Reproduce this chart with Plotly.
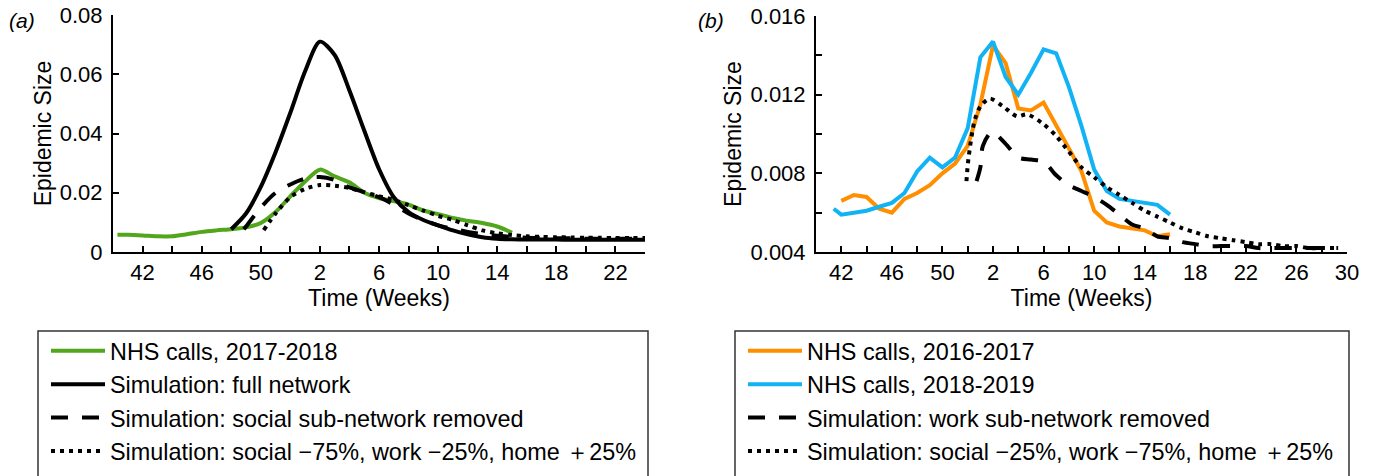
import plotly.graph_objects as go

# Week axis: 40..52 are calendar weeks of the first year, 53 -> week 1 of the next year, etc.
FONT = "Liberation Sans, Arial, Helvetica, sans-serif"
W, H = 1375, 476

# ---------------- panel (a) ----------------
A_NHS_1718_WEEKS = [40.3, 41, 42, 43, 44, 45, 46, 47, 48, 49, 50, 51, 52, 53, 54, 55, 56, 57,
                    58, 59, 60, 61, 62, 63, 64, 65, 66, 67]
A_NHS_1718 = [0.0058, 0.0058, 0.0056, 0.0053, 0.0053, 0.0060, 0.0068, 0.0073, 0.0077, 0.0083,
              0.0098, 0.0135, 0.0188, 0.0238, 0.0278, 0.0255, 0.0235, 0.0200, 0.0182, 0.0172,
              0.0160, 0.0140, 0.0128, 0.0115, 0.0105, 0.0098, 0.0086, 0.0065]

A_FULL_WEEKS = [48, 49, 50, 51, 52, 53, 54, 55, 56, 57, 58, 59, 60, 61, 62, 63, 64, 65, 66,
                67, 68, 69, 70, 71, 72, 73, 74, 75, 76]
A_FULL = [0.0077, 0.0130, 0.0220, 0.0337, 0.0470, 0.0610, 0.0710, 0.0665, 0.0545, 0.0410,
          0.0280, 0.0185, 0.0135, 0.0108, 0.0090, 0.0073, 0.0060, 0.0050, 0.0045, 0.0043,
          0.0042, 0.0042, 0.0042, 0.0041, 0.0041, 0.0041, 0.0041, 0.0041, 0.0041]

A_NOSOCIAL_WEEKS = [48.85, 49, 50, 51, 52, 53, 54, 55, 56, 57, 58, 59, 60, 61, 62, 63, 64, 65,
                    66, 67, 68, 69, 70, 71, 72, 73, 74, 75, 76]
A_NOSOCIAL = [0.0077, 0.0086, 0.0150, 0.0200, 0.0228, 0.0248, 0.0253, 0.0243, 0.0218, 0.0202,
              0.0185, 0.0160, 0.0130, 0.0108, 0.0090, 0.0078, 0.0068, 0.0060, 0.0055, 0.0051,
              0.0048, 0.0047, 0.0046, 0.0046, 0.0045, 0.0045, 0.0045, 0.0045, 0.0045]

A_MIXED_WEEKS = [50.2, 51, 52, 53, 54, 55, 56, 57, 58, 59, 60, 61, 62, 63, 64, 65, 66, 67, 68,
                 69, 70, 71, 72, 73, 74, 75, 76]
A_MIXED = [0.0074, 0.0130, 0.0185, 0.0213, 0.0226, 0.0224, 0.0216, 0.0202, 0.0188, 0.0176,
           0.0158, 0.0140, 0.0122, 0.0108, 0.0090, 0.0073, 0.0063, 0.0057, 0.0053, 0.0051,
           0.0050, 0.0049, 0.0048, 0.0048, 0.0047, 0.0047, 0.0047]

# ---------------- panel (b) ----------------
B_NHS_1617_WEEKS = [42, 43, 44, 45, 46, 47, 48, 49, 50, 51, 52, 53, 54, 55, 56, 57, 58, 59, 60,
                    61, 62, 63, 64, 65, 66, 67, 68]
B_NHS_1617 = [0.0066, 0.0069, 0.0068, 0.0062, 0.0060, 0.0067, 0.0070, 0.0074, 0.0080, 0.0085,
              0.0094, 0.0115, 0.0145, 0.0136, 0.0113, 0.0112, 0.0116, 0.0104, 0.0092, 0.0081,
              0.0061, 0.0055, 0.0053, 0.0052, 0.0051, 0.0048, 0.0049]

B_NHS_1819_WEEKS = [41.4, 42, 43, 44, 45, 46, 47, 48, 49, 50, 51, 52, 53, 54, 55, 56, 57, 58,
                    59, 60, 61, 62, 63, 64, 65, 66, 67, 68]
B_NHS_1819 = [0.0062, 0.0059, 0.0060, 0.0061, 0.0063, 0.0065, 0.0070, 0.0081, 0.0088, 0.0083,
              0.0088, 0.0103, 0.0139, 0.0147, 0.0129, 0.0120, 0.0131, 0.0143, 0.0141, 0.0124,
              0.0104, 0.0082, 0.0071, 0.0067, 0.0066, 0.0065, 0.0064, 0.0059]

B_NOWORK_WEEKS = [52.7, 53.0, 53.2, 53.9, 55, 56, 57, 58, 59, 60, 61, 62, 63, 64, 65, 66, 67,
                  68, 69, 70, 71, 72, 73, 74, 75, 76, 77, 78, 79, 80, 81, 81.3]
B_NOWORK = [0.0076, 0.0083, 0.0094, 0.0101, 0.0095, 0.0088, 0.0087, 0.0086, 0.0079, 0.0074,
            0.0071, 0.0068, 0.0064, 0.0059, 0.0054, 0.0052, 0.0048, 0.0047, 0.0045, 0.0044,
            0.0043, 0.0043, 0.0043, 0.0043, 0.0042, 0.0042, 0.0042, 0.0042, 0.0042, 0.0042,
            0.0042, 0.0042]

B_MIXED_WEEKS = [51.9, 52.05, 52.55, 53, 53.75, 54.8, 55.9, 56.7, 58, 59, 60, 61, 62, 63, 64,
                 65, 66, 67, 68, 69, 70, 71, 72, 73, 74, 75, 76, 77, 78, 79, 80, 81, 81.3]
B_MIXED = [0.0076, 0.0087, 0.0107, 0.0114, 0.0118, 0.0114, 0.0109, 0.0110, 0.0105, 0.0099,
           0.0091, 0.0083, 0.0078, 0.0073, 0.0069, 0.0065, 0.0061, 0.0058, 0.0055, 0.0052,
           0.0050, 0.0048, 0.0047, 0.0046, 0.0045, 0.0044, 0.0044, 0.0043, 0.0043, 0.0042,
           0.0042, 0.0042, 0.0042]

# Axis ticks
A_X_TICKS = list(range(42, 77, 2))
B_X_TICKS = list(range(42, 83, 2))
A_Y_TICKS = [0, 0.02, 0.04, 0.06, 0.08]
A_Y_LABELS = ["0", "0.02", "0.04", "0.06", "0.08"]
B_Y_TICKS = [0.004, 0.006, 0.008, 0.010, 0.012, 0.014, 0.016]
B_Y_LABELS = ["0.004", "", "0.008", "", "0.012", "", "0.016"]

GREEN = "#52A61B"
ORANGE = "#FF8F00"
BLUE = "#12B3F5"
BLACK = "#000000"
DASH = "17px,14px"
DOT = "4px,5px"


def week_label(t):
    # label every fourth week; week numbers restart after 52
    if (t - 42) % 4:
        return ""
    return str(t if t <= 52 else t - 52)


def px_x(p):
    return p / W


def px_y(p):
    return 1 - p / H


fig = go.Figure()


def add_line(x, y, name, color, dash, shape, xa, ya, legend):
    fig.add_trace(go.Scatter(
        x=x, y=y, name=name, mode="lines",
        line=dict(color=color, width=4, dash=dash, shape=shape, smoothing=0.8),
        xaxis=xa, yaxis=ya, legend=legend,
    ))


add_line(A_NHS_1718_WEEKS, A_NHS_1718, "NHS calls, 2017-2018", GREEN, "solid", "spline", "x", "y", "legend")
add_line(A_FULL_WEEKS, A_FULL, "Simulation: full network", BLACK, "solid", "spline", "x", "y", "legend")
add_line(A_NOSOCIAL_WEEKS, A_NOSOCIAL, "Simulation: social sub-network removed", BLACK, DASH, "spline", "x", "y", "legend")
add_line(A_MIXED_WEEKS, A_MIXED, "Simulation: social \u221275%, work \u221225%, home \uff0b25%", BLACK, DOT, "spline", "x", "y", "legend")

add_line(B_NHS_1617_WEEKS, B_NHS_1617, "NHS calls, 2016-2017", ORANGE, "solid", "linear", "x2", "y2", "legend2")
add_line(B_NHS_1819_WEEKS, B_NHS_1819, "NHS calls, 2018-2019", BLUE, "solid", "linear", "x2", "y2", "legend2")
add_line(B_NOWORK_WEEKS, B_NOWORK, "Simulation: work sub-network removed", BLACK, DASH, "spline", "x2", "y2", "legend2")
add_line(B_MIXED_WEEKS, B_MIXED, "Simulation: social \u221225%, work \u221275%, home \uff0b25%", BLACK, DOT, "spline", "x2", "y2", "legend2")

axis_common = dict(
    showline=True, linecolor="black", linewidth=2, mirror=False,
    ticks="inside", ticklen=6, tickwidth=1.5, tickcolor="black",
    showgrid=False, zeroline=False, automargin=False,
    tickfont=dict(family=FONT, size=22, color="black"),
    title_font=dict(family=FONT, size=23, color="black"),
)

legend_common = dict(
    xanchor="left", yanchor="top", bgcolor="rgba(0,0,0,0)", borderwidth=0,
    itemwidth=54, traceorder="normal",
    font=dict(family=FONT, size=23.4, color="black"),
)

fig.update_layout(
    width=W, height=H, margin=dict(l=0, r=0, t=0, b=0),
    paper_bgcolor="white", plot_bgcolor="white",
    font=dict(family=FONT, color="black"),
    xaxis=dict(domain=[px_x(113), px_x(645)], range=[40, 76], anchor="y",
               tickmode="array", tickvals=A_X_TICKS, ticktext=[week_label(t) for t in A_X_TICKS],
               ticklabelstandoff=0,
               title=dict(text="Time (Weeks)", standoff=2), **axis_common),
    yaxis=dict(domain=[px_y(252), px_y(15)], range=[0, 0.08], anchor="x",
               tickmode="array", tickvals=A_Y_TICKS, ticktext=A_Y_LABELS,
               ticklabelstandoff=4,
               title=dict(text="Epidemic Size", standoff=2), **axis_common),
    xaxis2=dict(domain=[px_x(816), px_x(1347)], range=[40, 82], anchor="y2",
                tickmode="array", tickvals=B_X_TICKS, ticktext=[week_label(t) for t in B_X_TICKS],
                ticklabelstandoff=0,
                title=dict(text="Time (Weeks)", standoff=2), **axis_common),
    yaxis2=dict(domain=[px_y(252), px_y(16)], range=[0.004, 0.016], anchor="x2",
                tickmode="array", tickvals=B_Y_TICKS, ticktext=B_Y_LABELS,
                ticklabelstandoff=4,
                title=dict(text="Epidemic Size", standoff=2), **axis_common),
    legend=dict(x=px_x(46), y=px_y(329), **legend_common),
    legend2=dict(x=px_x(743), y=px_y(329), **legend_common),
    shapes=[
        dict(type="rect", xref="paper", yref="paper",
             x0=px_x(38), x1=px_x(648), y0=px_y(331), y1=px_y(520),
             line=dict(color="#333333", width=1.5)),
        dict(type="rect", xref="paper", yref="paper",
             x0=px_x(735), x1=px_x(1349), y0=px_y(331), y1=px_y(520),
             line=dict(color="#333333", width=1.5)),
    ],
    annotations=[
        dict(text="<i>(a)</i>", xref="paper", yref="paper", x=px_x(7), y=px_y(21),
             xanchor="left", yanchor="middle", showarrow=False,
             font=dict(family=FONT, size=21, color="black")),
        dict(text="<i>(b)</i>", xref="paper", yref="paper", x=px_x(696), y=px_y(21),
             xanchor="left", yanchor="middle", showarrow=False,
             font=dict(family=FONT, size=21, color="black")),
    ],
)

fig.write_html("out.html")
